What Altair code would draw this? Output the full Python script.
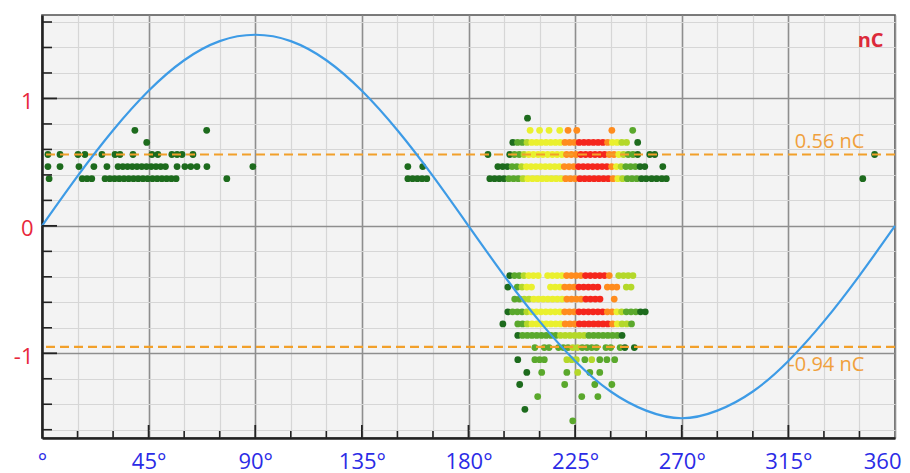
import altair as alt
import pandas as pd

# ---------------- data ----------------
# Phase-resolved PD pattern: for every charge level (nC) a list of
# (start phase in degrees, density codes); each code character is one 2-degree
# phase bin, ' ' = empty bin, '1'..'6' = pulse density class (low -> high).
BIN_DEG = 2.0
PD_ROWS = {
    0.845: [(204.9, "1")],
    0.75: [(39.2, "1"), (69.5, "1"), (206.0, "4 4 4"), (218.5, "4"), (222.0, "5"),
           (225.7, "5"), (240.5, "5"), (249.3, "2")],
    0.655: [(44.2, "1"), (198.7, "1223444444455566666654433"), (251.4, "1")],
    0.56: [(2.5, "1"), (7.6, "1"), (15.2, "1"), (18.1, "1"), (25.3, "1"), (30.8, "1"),
           (32.9, "1"), (38.4, "1"), (46.4, "1"), (48.9, "1"), (54.8, "1"), (57.0, "1"),
           (59.1, "1"), (63.7, "1"), (188.2, "1"),
           (197.4, "1223444444445556666665543221"), (256.5, "1"), (258.6, "1"),
           (351.4, "1")],
    0.465: [(2.5, "1"), (7.6, "1"), (15.6, "1"), (21.9, "1"), (27.4, "1"),
            (32.1, "11111111111"), (57.0, "1"), (60.3, "1"), (62.8, "1"), (65.4, "1"),
            (69.6, "1"), (89.0, "1"), (154.4, "1"), (160.7, "1"),
            (192.4, "11122344444444555666666654322211"), (262.0, "1")],
    0.37: [(3.0, "1"), (17.0, "111"), (26.6, "1111111111111111"), (78.0, "1"),
           (154.4, "11111"), (189.0, "1111222344444444555666666654322211"),
           (257.3, "1"), (259.4, "1"), (261.6, "1"), (263.5, "1"), (346.4, "1")],
    -0.39: [(197.4, "1223444 44445555666665 3333")],
    -0.48: [(196.6, "1 2344   44455566666 555 33")],
    -0.575: [(199.5, "2233444444455556666  5")],
    -0.675: [(196.6, "122234444444555666666554322211")],
    -0.77: [(194.5, "1"), (200.8, "2234444444555666666654332")],
    -0.86: [(200.8, "12222222233333322222221")],
    -0.955: [(208.0, "2 22 222332222 22 21 1")],
    -1.05: [(200.8, "1"), (208.0, "222"), (221.5, "333"), (229.1, "2"), (232.0, "3"),
            (235.4, "2"), (238.4, "2"), (241.7, "2")],
    -1.15: [(204.6, "1"), (210.9, "2"), (221.5, "2"), (226.1, "3"), (231.2, "2"),
            (235.4, "2")],
    -1.245: [(201.6, "1"), (220.6, "2"), (233.3, "2"), (240.5, "2")],
    -1.34: [(209.2, "2"), (227.8, "2"), (234.6, "2")],
    -1.44: [(203.8, "1")],
    -1.53: [(224.0, "2")],
}

DENSITY_CODES = ["1", "2", "3", "4", "5", "6"]
DENSITY_COLORS = ["#1d6b1d", "#5aa82c", "#b4d82a", "#eaf02e", "#ff8c1e", "#f5261c"]

# reference voltage curve, read every 15 degrees
REF_PHASE = [0, 15, 30, 45, 60, 75, 90, 105, 120, 135, 150, 165, 180,
             195, 210, 225, 240, 255, 270, 285, 300, 315, 330, 345, 360]
REF_NC = [0, 0.39, 0.75, 1.06, 1.30, 1.45, 1.50, 1.45, 1.30, 1.06, 0.75, 0.39, 0,
          -0.39, -0.75, -1.06, -1.30, -1.45, -1.51, -1.45, -1.30, -1.06, -0.75, -0.39, 0]

THRESH_NC = [0.56, -0.95]
THRESH_TEXT = ["0.56 nC", "-0.94 nC"]
THRESH_TEXT_PHASE = [332.4, 331.0]

UNIT_TEXT = ["nC"]
UNIT_PHASE = [349.7]
UNIT_NC = [1.40]

X_GRID = [0, 15, 30, 45, 60, 75, 90, 105, 120, 135, 150, 165, 180, 195, 210, 225,
          240, 255, 270, 285, 300, 315, 330, 345, 360]
Y_GRID = [-1.6, -1.4, -1.2, -1.0, -0.8, -0.6, -0.4, -0.2, 0.0, 0.2, 0.4, 0.6, 0.8,
          1.0, 1.2, 1.4, 1.6]
X_TICKS_MINOR = [15, 30, 60, 75, 105, 120, 150, 165, 195, 210, 240, 255, 285, 300, 330, 345]
X_TICKS_MAJOR = [45, 90, 135, 180, 225, 270, 315]
Y_TICKS_MINOR = [-1.6, -1.4, -1.2, -0.8, -0.6, -0.4, -0.2, 0.2, 0.4, 0.6, 0.8, 1.2, 1.4, 1.6]
Y_TICKS_MAJOR = [-1.0, 0.0, 1.0]

# ---------------- tables ----------------
records = []
for nc, segs in PD_ROWS.items():
    for start, codes in segs:
        for i, ch in enumerate(codes):
            if ch != " ":
                records.append({"phase": start + i * BIN_DEG, "nc": nc, "density": ch})
points_df = pd.DataFrame(records)
ref_df = pd.DataFrame({"phase": REF_PHASE, "nc": REF_NC})
thr_df = pd.DataFrame({"nc": THRESH_NC, "phase": THRESH_TEXT_PHASE, "t": THRESH_TEXT})
unit_df = pd.DataFrame({"phase": UNIT_PHASE, "nc": UNIT_NC, "t": UNIT_TEXT})

FONT = "Open Sans"
major_x = "datum.value % 45 === 0"
major_y = "abs(datum.value - round(datum.value)) < 0.001"
last_x = "datum.value === 360"

x_enc = alt.X(
    "phase:Q",
    scale=alt.Scale(domain=[0, 360], nice=False, zero=False),
    axis=alt.Axis(
        values=X_GRID, title=None, ticks=False, labelPadding=13,
        labelExpr=("datum.value === 0 ? '°' : (datum.value === 360 ? '360' : "
                   "(datum.value % 45 === 0 ? datum.value + '°' : ''))"),
        labelAlign={"condition": {"test": last_x, "value": "right"}, "value": "center"},
        labelOffset={"condition": {"test": last_x, "value": 6}, "value": 0},
        labelColor="#2b2be6", labelFontSize=22, labelFont=FONT, labelFlush=False,
        labelOverlap=False, domainColor="#222222", domainWidth=2.5,
        grid=True,
        gridColor={"condition": {"test": major_x, "value": "#8e8e8e"}, "value": "#d6d6d6"},
        gridWidth={"condition": {"test": major_x, "value": 1.6}, "value": 1.2},
    ),
)
y_enc = alt.Y(
    "nc:Q",
    scale=alt.Scale(domain=[-1.665, 1.655], nice=False, zero=False),
    axis=alt.Axis(
        values=Y_GRID, title=None, ticks=False, labelPadding=9, labelOffset=3,
        labelExpr=f"{major_y} ? round(datum.value) + '' : ''",
        labelColor="#e8283c", labelFontSize=22, labelFont=FONT,
        labelOverlap=False, labelFlush=False, domainColor="#222222", domainWidth=2.5,
        grid=True,
        gridColor={"condition": {"test": major_y, "value": "#8e8e8e"}, "value": "#d6d6d6"},
        gridWidth={"condition": {"test": major_y, "value": 1.6}, "value": 1.2},
    ),
)

pts = alt.Chart(points_df).mark_circle(size=46, opacity=1).encode(
    x=x_enc, y=y_enc,
    color=alt.Color("density:N", scale=alt.Scale(domain=DENSITY_CODES, range=DENSITY_COLORS),
                    legend=None),
)

xt_minor = alt.Chart(pd.DataFrame({"phase": X_TICKS_MINOR})).mark_rule(
    color="#222222", strokeWidth=1.6).encode(x=x_enc, y=alt.value(423), y2=alt.value(416))
xt_major = alt.Chart(pd.DataFrame({"phase": X_TICKS_MAJOR})).mark_rule(
    color="#222222", strokeWidth=1.8).encode(x=x_enc, y=alt.value(423), y2=alt.value(410))
yt_minor = alt.Chart(pd.DataFrame({"nc": Y_TICKS_MINOR})).mark_rule(
    color="#222222", strokeWidth=1.6).encode(y=y_enc, x=alt.value(0), x2=alt.value(10))
yt_major = alt.Chart(pd.DataFrame({"nc": Y_TICKS_MAJOR})).mark_rule(
    color="#222222", strokeWidth=1.8).encode(y=y_enc, x=alt.value(0), x2=alt.value(15))

thr_lines = alt.Chart(thr_df).mark_rule(
    color="#f2a02a", strokeWidth=2.2, strokeDash=[9, 5]).encode(y=y_enc)

curve = alt.Chart(ref_df).mark_line(
    color="#3d9be6", strokeWidth=2.2, interpolate="natural").encode(x=x_enc, y=y_enc)

txt_hi = alt.Chart(thr_df.iloc[[0]]).mark_text(
    color="#f0a03c", font=FONT, fontSize=20, align="center", baseline="alphabetic", dy=-7
).encode(x=x_enc, y=y_enc, text="t:N")
txt_lo = alt.Chart(thr_df.iloc[[1]]).mark_text(
    color="#f0a03c", font=FONT, fontSize=20, align="center", baseline="alphabetic", dy=24
).encode(x=x_enc, y=y_enc, text="t:N")
unit = alt.Chart(unit_df).mark_text(
    color="#dc2a3a", font=FONT, fontSize=20, fontWeight="bold", align="center",
    baseline="alphabetic").encode(x=x_enc, y=y_enc, text="t:N")

chart = alt.layer(
    pts, thr_lines, curve, xt_minor, xt_major, yt_minor, yt_major, txt_hi, txt_lo, unit
).properties(
    width=853, height=423,
    padding={"left": 34, "top": 7, "right": 7, "bottom": 35},
    autosize=alt.AutoSizeParams(type="none"),
    background="#ffffff",
).configure_view(
    fill="#f3f3f3", stroke="#505050", strokeWidth=1.6
)

chart.save("out.html", embed_options={"renderer": "svg", "actions": False})
